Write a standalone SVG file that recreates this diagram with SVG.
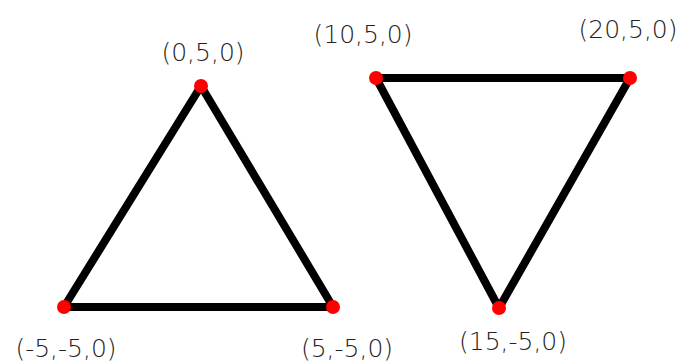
<svg xmlns="http://www.w3.org/2000/svg" width="680" height="363" viewBox="0 0 680 363">
<style>
.edge{stroke:#000;stroke-width:8;stroke-linecap:round;fill:none}
.pt{fill:#f00}
.lbl{font-family:"DejaVu Sans",Verdana,sans-serif;font-size:25px;fill:#222;font-weight:200}
</style>
<rect width="680" height="363" fill="#fff"/>
<g id="connectors">
<line class="edge" x1="201" y1="86" x2="64" y2="307"/>
<line class="edge" x1="201" y1="86" x2="333" y2="307"/>
<line class="edge" x1="64" y1="307" x2="333" y2="307"/>
<line class="edge" x1="376" y1="78" x2="630" y2="78"/>
<line class="edge" x1="376" y1="78" x2="499" y2="308"/>
<line class="edge" x1="630" y1="78" x2="499" y2="308"/>
</g>
<g id="p1"><circle class="pt" cx="201" cy="86" r="7"/><text class="lbl" x="203" y="61" text-anchor="middle">(0,5,0)</text></g>
<g id="p2"><circle class="pt" cx="64" cy="307" r="7"/><text class="lbl" x="66" y="357" text-anchor="middle">(-5,-5,0)</text></g>
<g id="p3"><circle class="pt" cx="333" cy="307" r="7"/><text class="lbl" x="347" y="357" text-anchor="middle">(5,-5,0)</text></g>
<g id="p4"><circle class="pt" cx="376" cy="78" r="7"/><text class="lbl" x="363" y="43" text-anchor="middle">(10,5,0)</text></g>
<g id="p5"><circle class="pt" cx="630" cy="78" r="7"/><text class="lbl" x="628" y="38" text-anchor="middle">(20,5,0)</text></g>
<g id="p6"><circle class="pt" cx="499" cy="308" r="7"/><text class="lbl" x="513" y="350" text-anchor="middle">(15,-5,0)</text></g>
</svg>
